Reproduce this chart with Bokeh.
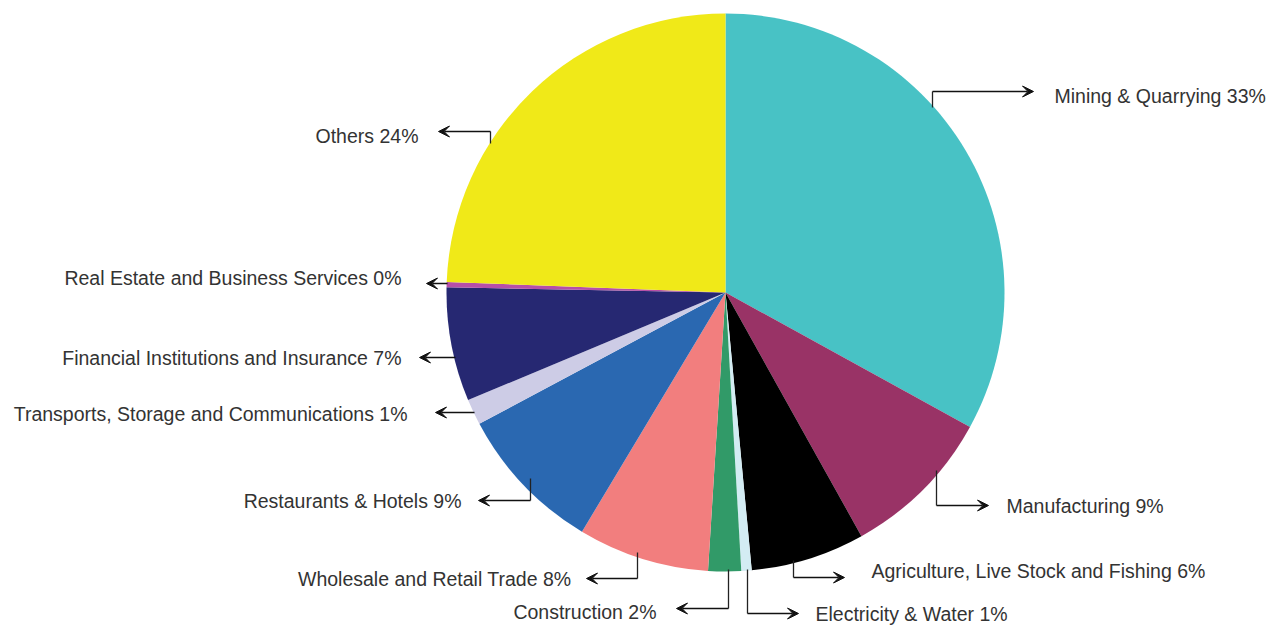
import math
from bokeh.plotting import figure
from bokeh.models import Range1d, Arrow, VeeHead, ColumnDataSource
from bokeh.core.properties import value
from bokeh.embed import file_html
from bokeh.resources import INLINE

# ---- data ----
categories = ["Mining & Quarrying", "Manufacturing", "Agriculture, Live Stock and Fishing",
              "Electricity & Water", "Construction", "Wholesale and Retail Trade",
              "Restaurants & Hotels", "Transports, Storage and Communications",
              "Financial Institutions and Insurance", "Real Estate and Business Services",
              "Others"]
shares = [33.0, 8.9, 6.6, 0.6, 1.9, 7.6, 8.6, 1.5, 6.6, 0.3, 24.4]
pct_labels = ["33%", "9%", "6%", "1%", "2%", "8%", "9%", "1%", "7%", "0%", "24%"]
colors = ["#48C2C5", "#993366", "#000000", "#D3ECF3", "#319A68", "#F27E7E",
          "#2A68B1", "#CDCCE6", "#262872", "#B64FA8", "#F0E918"]

# ---- layout (screen px): leader anchor, bend, arrow tip, label pos, align ----
leaders = [
    ((932, 107), (932, 91), (1033, 91), (1054, 95), "left"),
    ((936, 470), (936, 505), (988, 505), (1006, 505), "left"),
    ((793, 560), (793, 577), (844, 577), (871, 570), "left"),
    ((747, 569), (747, 613), (798, 613), (815, 613), "left"),
    ((728, 569), (728, 608), (676, 608), (656, 611), "right"),
    ((637, 552), (637, 578), (586, 578), (571, 578), "right"),
    ((530, 478), (530, 500), (478, 500), (461, 500), "right"),
    ((474, 412), (474, 412), (435, 412), (407, 413), "right"),
    ((455, 357), (455, 357), (419, 357), (401, 357), "right"),
    ((447, 283), (447, 283), (426, 283), (401, 277), "right"),
    ((490, 143), (490, 131), (438, 131), (418, 135), "right"),
]
CX, CY, R = 725, 292, 279

W, H = 1270, 625
p = figure(width=W, height=H, output_backend="svg", toolbar_location=None,
           x_range=Range1d(0, W), y_range=Range1d(-H, 0),
           min_border=0, outline_line_color=None)
p.axis.visible = False
p.grid.visible = False
p.background_fill_color = "white"

total = sum(shares)
starts, ends = [], []
cum = 0.0
for s in shares:
    a0 = math.pi / 2 - 2 * math.pi * cum / total
    cum += s
    a1 = math.pi / 2 - 2 * math.pi * cum / total
    starts.append(a0)
    ends.append(a1)

src = ColumnDataSource(dict(start=starts, end=ends, color=colors, cat=categories))
p.wedge(x=CX, y=-CY, radius=R, start_angle="start", end_angle="end",
        direction="clock", fill_color="color", line_color=None, source=src)

tx, ty, ttext, talign = [], [], [], []
for i, (anc, bend, tip, lab, al) in enumerate(leaders):
    if anc != bend:
        p.line([anc[0], bend[0]], [-anc[1], -bend[1]], line_color="#222222", line_width=1.3)
    p.add_layout(Arrow(x_start=bend[0], y_start=-bend[1], x_end=tip[0], y_end=-tip[1],
                       line_color="#111111", line_width=1.3,
                       end=VeeHead(size=11, fill_color="#111111", line_color="#111111")))
    tx.append(lab[0]); ty.append(-lab[1])
    ttext.append(categories[i] + " " + pct_labels[i]); talign.append(al)

lsrc = ColumnDataSource(dict(x=tx, y=ty, t=ttext, a=talign))
p.text(x="x", y="y", text="t", text_align="a", text_baseline="middle",
       text_font=value("Liberation Sans"), text_font_size="19.5px",
       text_color="#333333", source=lsrc)

open("out.html", "w").write(file_html(p, INLINE))
